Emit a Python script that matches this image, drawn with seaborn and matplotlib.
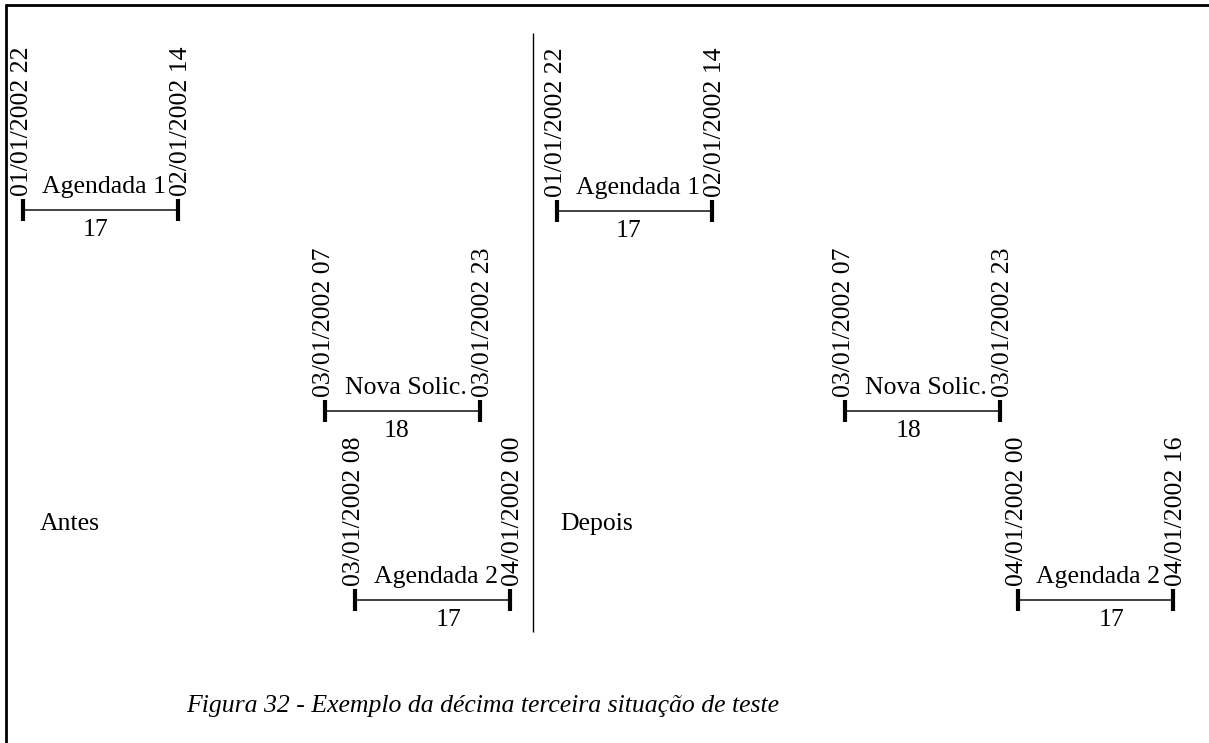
import pandas as pd
import matplotlib
matplotlib.use("Agg")
import matplotlib.pyplot as plt
import seaborn as sns

sns.set_style("white")
plt.rcParams['font.family'] = ['Liberation Serif', 'DejaVu Serif']
plt.rcParams['text.color'] = 'black'

# data: the three requests, before and after the rescheduling
panels = ["Antes", "Depois"]
events = ["Agendada 1", "Nova Solic.", "Agendada 2"]
antes_start = ["01/01/2002 22", "03/01/2002 07", "03/01/2002 08"]
antes_end = ["02/01/2002 14", "03/01/2002 23", "04/01/2002 00"]
antes_hours = [17, 18, 17]
depois_start = ["01/01/2002 22", "03/01/2002 07", "04/01/2002 00"]
depois_end = ["02/01/2002 14", "03/01/2002 23", "04/01/2002 16"]
depois_hours = [17, 18, 17]
caption = "Figura 32 - Exemplo da décima terceira situação de teste"

df = pd.DataFrame({
    "panel": ["Antes"] * 3 + ["Depois"] * 3,
    "event": events * 2,
    "start": antes_start + depois_start,
    "end": antes_end + depois_end,
    "hours": antes_hours + depois_hours,
})

# layout (pixel units of the page, schematic, not to time scale)
bar_left = [23, 325, 355, 557, 845, 1018]
row_y = [210, 411, 600, 211, 411, 600]
bar_w = 155
hours_dx = [-5, -6, 16, -6, -14, 16]
panel_label_x = {"Antes": 40, "Depois": 560}
fs = 18.5

fig = plt.figure(figsize=(12.09, 7.43), dpi=100)
ax = fig.add_axes([0, 0, 1, 1])
ax.set_xlim(0, 1209)
ax.set_ylim(743, 0)
ax.axis("off")

# page frame (left and top only) and divider
ax.plot([6, 6], [5, 743], color="black", lw=2)
ax.plot([6, 1209], [5, 5], color="black", lw=2)
ax.vlines(533, 33, 632, color="black", lw=1)

for i, row in df.iterrows():
    x0 = bar_left[i]
    x1 = x0 + bar_w
    y = row_y[i]
    ax.hlines(y, x0, x1, color="#333333", lw=1.3)
    ax.vlines([x0, x1], y - 11, y + 11, color="black", lw=3)
    ax.text(x0 - 1, y - 14, row["start"], rotation=90, ha="center", va="bottom", fontsize=fs)
    ax.text(x1 + 3, y - 14, row["end"], rotation=90, ha="center", va="bottom", fontsize=fs)
    ax.text((x0 + x1) / 2 + 3, y - 17, row["event"], ha="center", va="baseline", fontsize=fs)
    ax.text((x0 + x1) / 2 + hours_dx[i], y + 26, str(row["hours"]), ha="center", va="baseline", fontsize=fs)

for p in panels:
    ax.text(panel_label_x[p], 530, p, ha="left", va="baseline", fontsize=fs)

ax.text(483, 712, caption, ha="center", va="baseline", fontsize=fs, style="italic")

fig.savefig("out.png", dpi=100)
